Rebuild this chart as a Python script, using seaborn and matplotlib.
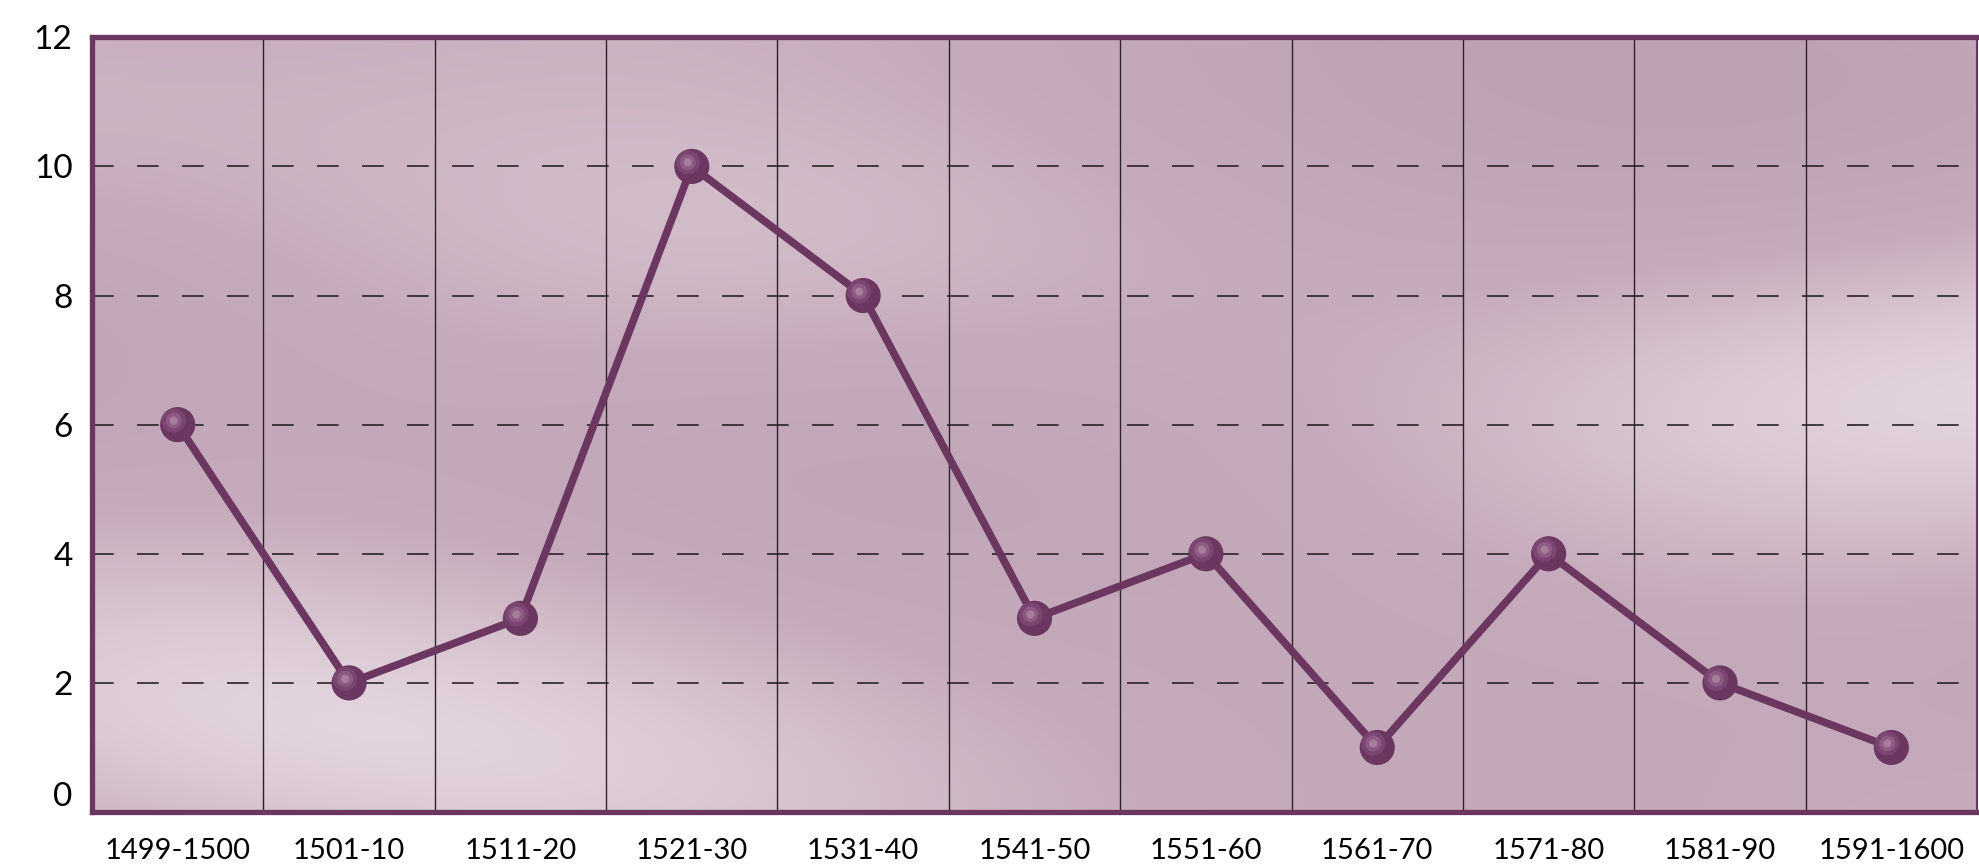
import numpy as np
import pandas as pd
import matplotlib
matplotlib.use("Agg")
import matplotlib.pyplot as plt
import matplotlib.transforms as mtransforms
from matplotlib.colors import LinearSegmentedColormap
import seaborn as sns

# data
periods = ["1499-1500", "1501-10", "1511-20", "1521-30", "1531-40", "1541-50",
           "1551-60", "1561-70", "1571-80", "1581-90", "1591-1600"]
counts = [6, 2, 3, 10, 8, 3, 4, 1, 4, 2, 1]
y_ticks = [0, 2, 4, 6, 8, 10, 12]

df = pd.DataFrame({"period": periods, "count": counts})
df["pos"] = range(len(df))

sns.set_style("white")
plt.rcParams["font.family"] = ["Lato", "DejaVu Sans"]

purple = "#6b3660"

fig = plt.figure(figsize=(19.79, 8.67), dpi=100)
ax = fig.add_axes([0.0465, 0.0634, 0.9525, 0.8936])

# marbled mauve background (decorative only)
gx, gy = np.meshgrid(np.linspace(0, 1, 400), np.linspace(0, 1, 200))
field = (np.sin(gx * 7.0 + np.sin(gy * 5.0) * 1.3) * 0.35
         + np.sin(gy * 9.0 + gx * 3.0) * 0.35
         + np.cos(gx * 3.5 - gy * 6.0) * 0.3)
bg_cmap = LinearSegmentedColormap.from_list("mauve", ["#bda2b3", "#c6abbc", "#e2d3dc"])
ax.imshow(field, extent=[-0.5, 10.5, 0, 12], origin="lower", aspect="auto",
          cmap=bg_cmap, zorder=0, interpolation="bicubic")

# grid
for yv in y_ticks[1:-1]:
    ax.axhline(yv, color="#2a2228", lw=1.2, dashes=(13, 14), zorder=1)
for xv in np.arange(0.5, len(periods) - 0.5, 1):
    ax.axvline(xv, color="#2a2228", lw=1.0, zorder=1)

sns.lineplot(data=df, x="pos", y="count", color=purple, lw=5.5, ax=ax, zorder=3)
sns.scatterplot(data=df, x="pos", y="count", color=purple, s=640, edgecolor="none",
                ax=ax, zorder=4, legend=False)
# soft highlight for the ball look
shift = mtransforms.offset_copy(ax.transData, fig=fig, x=-4, y=4, units="dots")
for size, col, z in [(300, "#7a4570", 5), (130, "#8c5a82", 6), (35, "#a67d9b", 7)]:
    ax.scatter(df["pos"], df["count"], s=size, color=col, edgecolor="none",
               transform=shift, zorder=z)

ax.set_xlim(-0.5, len(periods) - 0.5)
ax.set_ylim(0, 12)
ax.set_xticks(df["pos"])
ax.set_xticklabels(periods)
ax.set_yticks(y_ticks)
ax.set_xlabel("")
ax.set_ylabel("")
ax.tick_params(axis="both", length=0, colors="black")
ax.tick_params(axis="x", pad=19, labelsize=21)
ax.tick_params(axis="y", pad=14, labelsize=24)
ax.get_yticklabels()[0].set_va("bottom")

for side in ["left", "top", "bottom"]:
    ax.spines[side].set_color(purple)
    ax.spines[side].set_linewidth(3.8)
ax.spines["right"].set_color(purple)
ax.spines["right"].set_linewidth(1.5)

fig.savefig("out.png", dpi=100)
